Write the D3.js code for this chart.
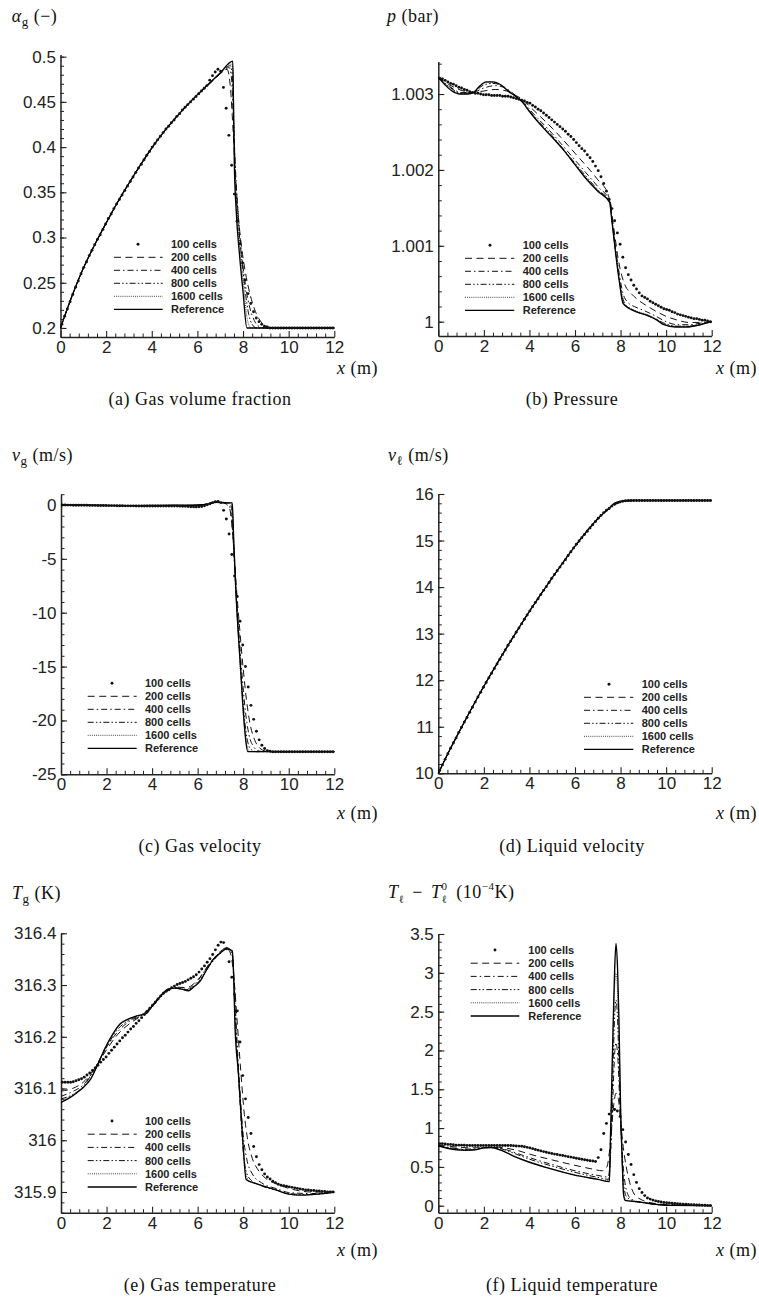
<!DOCTYPE html>
<html><head><meta charset="utf-8">
<script src="https://cdn.jsdelivr.net/npm/d3@7"></script>
<style>
body{margin:0;background:#fff}
svg{display:block}
</style></head><body>
<svg id="c" width="759" height="1298"></svg>
<script>
// ---------------- DATA ----------------
const legendLabels = ["100 cells","200 cells","400 cells","800 cells","1600 cells","Reference"];
const xTicks = [0,2,4,6,8,10,12];
const xTickLabels = ["0","2","4","6","8","10","12"];

const cellX = [0.06,0.18,0.30,0.42,0.54,0.66,0.78,0.90,1.02,1.14,
1.26,1.38,1.50,1.62,1.74,1.86,1.98,2.10,2.22,2.34,
2.46,2.58,2.70,2.82,2.94,3.06,3.18,3.30,3.42,3.54,
3.66,3.78,3.90,4.02,4.14,4.26,4.38,4.50,4.62,4.74,
4.86,4.98,5.10,5.22,5.34,5.46,5.58,5.70,5.82,5.94,
6.06,6.18,6.30,6.42,6.54,6.66,6.78,6.90,7.02,7.14,
7.26,7.38,7.50,7.62,7.74,7.86,7.98,8.10,8.22,8.34,
8.46,8.58,8.70,8.82,8.94,9.06,9.18,9.30,9.42,9.54,
9.66,9.78,9.90,10.02,10.14,10.26,10.38,10.50,10.62,10.74,
10.86,10.98,11.10,11.22,11.34,11.46,11.58,11.70,11.82,11.94];

// (a) gas volume fraction
const aTicks = [0.2,0.25,0.3,0.35,0.4,0.45,0.5];
const aTickLabels = ["0.2","0.25","0.3","0.35","0.4","0.45","0.5"];
const a100 = [0.204,0.213,0.221,0.229,0.237,0.245,0.252,0.260,0.267,0.273,
0.280,0.286,0.292,0.298,0.303,0.309,0.315,0.321,0.326,0.332,
0.337,0.342,0.347,0.352,0.357,0.362,0.367,0.372,0.377,0.381,
0.386,0.391,0.395,0.400,0.404,0.408,0.412,0.416,0.420,0.423,
0.427,0.430,0.434,0.437,0.441,0.444,0.447,0.450,0.453,0.456,
0.459,0.462,0.465,0.468,0.474,0.479,0.483,0.486,0.484,0.466,
0.443,0.413,0.380,0.348,0.318,0.293,0.272,0.253,0.238,0.227,
0.218,0.211,0.207,0.204,0.202,0.201,0.200,0.200,0.200,0.200,
0.200,0.200,0.200,0.200,0.200,0.200,0.200,0.200,0.200,0.200,
0.200,0.200,0.200,0.200,0.200,0.200,0.200,0.200,0.200,0.200];
const a200 = [[0,.2],[0.5,.235],[1,.266],[1.5,.292],[2,.316],[2.5,.339],[3,.36],[3.5,.38],[4,.399],[4.5,.416],[5,.431],[5.5,.445],[6,.458],[6.5,.469],[7,.481],[7.3,.486],[7.45,.465],[7.56,.42],[7.68,.365],[7.8,.322],[7.95,.287],[8.1,.262],[8.3,.238],[8.5,.221],[8.7,.21],[8.95,.203],[9.3,.2],[12,.2]];
const a400 = [[0,.2],[0.5,.235],[1,.266],[1.5,.292],[2,.316],[2.5,.339],[3,.36],[3.5,.38],[4,.399],[4.5,.416],[5,.431],[5.5,.445],[6,.458],[6.5,.47],[7,.481],[7.4,.488],[7.5,.474],[7.58,.43],[7.68,.37],[7.82,.315],[7.97,.275],[8.12,.245],[8.3,.222],[8.5,.208],[8.75,.201],[9,.2],[12,.2]];
const a800 = [[0,.2],[0.5,.235],[1,.266],[1.5,.292],[2,.316],[2.5,.339],[3,.36],[3.5,.38],[4,.399],[4.5,.416],[5,.431],[5.5,.445],[6,.458],[6.5,.47],[7,.482],[7.45,.49],[7.53,.479],[7.6,.42],[7.68,.36],[7.8,.315],[7.95,.275],[8.1,.24],[8.25,.215],[8.4,.204],[8.6,.2],[12,.2]];
const a1600 = [[0,.2],[0.5,.235],[1,.266],[1.5,.292],[2,.316],[2.5,.339],[3,.36],[3.5,.38],[4,.399],[4.5,.416],[5,.431],[5.5,.445],[6,.458],[6.5,.47],[7,.482],[7.5,.492],[7.56,.484],[7.6,.43],[7.66,.37],[7.75,.325],[7.9,.28],[8.05,.24],[8.2,.208],[8.35,.2],[12,.2]];
const aRef = [[0,.2],[0.5,.235],[1,.266],[1.5,.292],[2,.316],[2.5,.339],[3,.36],[3.5,.38],[4,.399],[4.5,.416],[5,.431],[5.5,.445],[6,.458],[6.5,.47],[7,.482],[7.55,.495],[7.58,.45],[7.62,.38],[7.7,.33],[7.85,.28],[8,.24],[8.17,.2],[12,.2]];

// (b) pressure
const bTicks = [1,1.001,1.002,1.003];
const bTickLabels = ["1","1.001","1.002","1.003"];
const b100 = [1.00321,1.00320,1.00318,1.00316,1.00314,1.00313,1.00311,1.00309,1.00308,1.00306,
1.00305,1.00303,1.00302,1.00301,1.00301,1.00300,1.00299,1.00299,1.00299,1.00298,
1.00298,1.00298,1.00298,1.00297,1.00297,1.00297,1.00296,1.00295,1.00294,1.00293,
1.00292,1.00291,1.00289,1.00288,1.00285,1.00283,1.00280,1.00278,1.00275,1.00272,
1.00269,1.00266,1.00263,1.00260,1.00257,1.00254,1.00251,1.00247,1.00244,1.00240,
1.00236,1.00232,1.00228,1.00225,1.00220,1.00216,1.00211,1.00205,1.00199,1.00191,
1.00182,1.00172,1.00161,1.00149,1.00133,1.00117,1.00102,1.00085,1.00071,1.00062,
1.00055,1.00048,1.00043,1.00038,1.00034,1.00032,1.00030,1.00027,1.00025,1.00023,
1.00021,1.00019,1.00017,1.00016,1.00015,1.00013,1.00012,1.00010,1.00009,1.00008,
1.00007,1.00006,1.00005,1.00004,1.00004,1.00003,1.00002,1.00002,1.00001,1.00000];
const b200 = [[0,1.00322],[0.5,1.00312],[1,1.00305],[1.5,1.00302],[2,1.00304],[2.5,1.00306],[3,1.00304],[3.4,1.00298],[3.7,1.00293],[4,1.00284],[5,1.00255],[6,1.00222],[7,1.00187],[7.45,1.00168],[7.6,1.00145],[7.75,1.00113],[7.9,1.00082],[8.05,1.00061],[8.2,1.00048],[8.5,1.00036],[8.8,1.00028],[9.2,1.0002],[9.6,1.00013],[10,1.00007],[10.5,1.00002],[11,0.99999],[11.5,0.99999],[12,1.0]];
const b400 = [[0,1.00322],[0.5,1.0031],[1,1.00302],[1.5,1.00302],[2,1.00308],[2.5,1.00311],[3,1.00307],[3.4,1.00298],[3.7,1.00291],[4,1.0028],[5,1.00248],[6,1.00213],[7,1.00178],[7.55,1.00158],[7.65,1.00128],[7.8,1.00092],[7.95,1.00062],[8.1,1.00038],[8.3,1.00026],[8.6,1.0002],[9.0,1.00015],[9.5,1.00008],[10,1.0],[10.5,0.99996],[11,0.99996],[11.5,0.99998],[12,1.0]];
const b800 = [[0,1.00322],[0.5,1.00309],[1,1.00301],[1.5,1.00302],[2,1.00312],[2.4,1.00314],[2.8,1.00311],[3.1,1.00304],[3.4,1.00297],[3.7,1.0029],[4,1.00278],[5,1.00245],[6,1.00209],[7,1.00174],[7.55,1.00157],[7.63,1.00132],[7.75,1.001],[7.9,1.00065],[8.05,1.00037],[8.2,1.00023],[8.5,1.00016],[9,1.0001],[9.5,1.00004],[10,0.99997],[10.5,0.99994],[11,0.99994],[11.5,0.99997],[12,1.0]];
const b1600 = [[0,1.00322],[0.5,1.00308],[1,1.003],[1.5,1.00302],[1.8,1.0031],[2.1,1.00315],[2.4,1.00315],[2.8,1.00311],[3.1,1.00303],[3.35,1.00298],[3.7,1.00289],[4.0,1.00277],[4.5,1.00259],[5.0,1.00243],[5.5,1.00226],[6.0,1.00207],[6.5,1.00189],[7.0,1.00173],[7.53,1.00157],[7.62,1.00135],[7.73,1.00106],[7.86,1.00074],[8.0,1.00045],[8.15,1.00024],[8.4,1.00018],[8.7,1.00014],[9.28,1.00008],[9.6,1.00003],[9.9,0.99997],[10.4,0.99994],[10.9,0.99994],[11.5,0.99996],[12,1.0]];
const bRef = [[0,1.00322],[0.3,1.00312],[0.6,1.00304],[0.95,1.003],[1.3,1.003],[1.55,1.00302],[1.8,1.0031],[2.1,1.00316],[2.4,1.00316],[2.8,1.00311],[3.1,1.00303],[3.35,1.00298],[3.7,1.00289],[4.0,1.00277],[4.5,1.00259],[5.0,1.00243],[5.5,1.00226],[6.0,1.00207],[6.5,1.00188],[7.0,1.00172],[7.52,1.00157],[7.6,1.00138],[7.7,1.00112],[7.82,1.00081],[7.95,1.00052],[8.11,1.00024],[8.4,1.00017],[8.7,1.00013],[9.28,1.00007],[9.6,1.00002],[9.9,0.99996],[10.4,0.99993],[10.9,0.99993],[11.5,0.99996],[12,1.0]];

// (c) gas velocity
const cTicks = [-25,-20,-15,-10,-5,0];
const cTickLabels = ["-25","-20","-15","-10","-5","0"];
const c100 = [0,0,-0.01,-0.01,-0.02,-0.02,-0.02,-0.03,-0.03,-0.03,
-0.04,-0.04,-0.04,-0.05,-0.05,-0.05,-0.05,-0.06,-0.06,-0.06,
-0.07,-0.07,-0.07,-0.08,-0.08,-0.08,-0.08,-0.09,-0.09,-0.09,
-0.09,-0.1,-0.1,-0.1,-0.1,-0.1,-0.1,-0.1,-0.1,-0.1,
-0.1,-0.1,-0.1,-0.11,-0.12,-0.13,-0.15,-0.17,-0.18,-0.18,
-0.17,-0.14,-0.08,0.02,0.12,0.22,0.3,0.32,0.22,-0.5,
-1.3,-2.7,-4.6,-6.6,-8.5,-10.8,-13.0,-15.0,-16.9,-18.6,
-19.9,-21.0,-21.8,-22.3,-22.6,-22.8,-22.85,-22.9,-22.9,-22.9,
-22.9,-22.9,-22.9,-22.9,-22.9,-22.9,-22.9,-22.9,-22.9,-22.9,
-22.9,-22.9,-22.9,-22.9,-22.9,-22.9,-22.9,-22.9,-22.9,-22.9];
const c200 = [[0,0],[1,-0.03],[2,-0.06],[3,-0.08],[4,-0.09],[5,-0.08],[6,-0.05],[6.6,0.2],[6.9,0.3],[7.2,0.15],[7.4,-0.3],[7.5,-1.8],[7.6,-4.5],[7.7,-7.6],[7.85,-11.6],[8.0,-15.2],[8.15,-18.2],[8.3,-20.3],[8.5,-21.8],[8.7,-22.5],[9.0,-22.85],[9.3,-22.9],[12,-22.9]];
const c400 = [[0,0],[1,-0.02],[2,-0.05],[3,-0.07],[4,-0.07],[5,-0.06],[6,-0.04],[6.6,0.2],[6.9,0.28],[7.3,0.2],[7.45,-0.5],[7.55,-3],[7.65,-6.8],[7.8,-11.5],[7.95,-15.8],[8.1,-19.2],[8.25,-21.3],[8.45,-22.4],[8.7,-22.85],[9,-22.9],[12,-22.9]];
const c800 = [[0,0],[1,-0.02],[2,-0.05],[3,-0.06],[4,-0.06],[5,-0.05],[6,-0.02],[6.5,0.1],[6.8,0.25],[7.2,0.2],[7.42,0.2],[7.5,-0.5],[7.58,-3.5],[7.66,-7.2],[7.8,-12.2],[7.95,-17],[8.08,-20.3],[8.2,-22],[8.35,-22.7],[8.6,-22.9],[12,-22.9]];
const c1600 = [[0,0],[1,-0.02],[2,-0.05],[3,-0.06],[4,-0.05],[5,-0.04],[6,0],[6.5,0.1],[6.8,0.25],[7.2,0.18],[7.48,0.2],[7.54,-1],[7.6,-4.5],[7.68,-8],[7.85,-14.5],[8.0,-19.3],[8.1,-21.5],[8.2,-22.6],[8.3,-22.9],[12,-22.9]];
const cRef = [[0,0],[1,-0.02],[2,-0.05],[3,-0.06],[4,-0.05],[5,-0.03],[6,0.0],[6.5,0.1],[6.8,0.25],[7.2,0.18],[7.52,0.2],[7.58,-3],[7.67,-7.6],[7.89,-15.3],[8.03,-19.9],[8.12,-22],[8.2,-22.9],[12,-22.9]];

// (d) liquid velocity
const dTicks = [10,11,12,13,14,15,16];
const dTickLabels = ["10","11","12","13","14","15","16"];
const d100 = [10.06,10.18,10.30,10.42,10.54,10.65,10.76,10.88,10.99,11.10,
11.20,11.31,11.42,11.53,11.64,11.74,11.85,11.95,12.05,12.15,
12.25,12.35,12.45,12.55,12.65,12.75,12.84,12.93,13.03,13.12,
13.21,13.31,13.40,13.49,13.58,13.67,13.75,13.84,13.93,14.01,
14.10,14.19,14.27,14.35,14.43,14.51,14.59,14.68,14.76,14.84,
14.92,14.99,15.06,15.13,15.20,15.27,15.34,15.41,15.48,15.54,
15.60,15.65,15.69,15.74,15.78,15.81,15.83,15.845,15.855,15.86,
15.86,15.86,15.86,15.86,15.86,15.86,15.86,15.86,15.86,15.86,
15.86,15.86,15.86,15.86,15.86,15.86,15.86,15.86,15.86,15.86,
15.86,15.86,15.86,15.86,15.86,15.86,15.86,15.86,15.86,15.86];
const d200 = [[0,10],[0.5,10.5],[1,10.97],[2,11.87],[3,12.7],[4,13.48],[5,14.2],[6,14.88],[7,15.46],[7.4,15.64],[7.7,15.76],[8.0,15.82],[8.3,15.85],[8.8,15.86],[12,15.86]];
const d400 = [[0,10],[0.5,10.5],[1,10.97],[2,11.87],[3,12.7],[4,13.48],[5,14.2],[6,14.88],[7,15.47],[7.5,15.69],[7.75,15.78],[8.0,15.83],[8.3,15.855],[8.7,15.86],[12,15.86]];
const d800 = [[0,10],[0.5,10.5],[1,10.97],[2,11.87],[3,12.7],[4,13.48],[5,14.2],[6,14.88],[7,15.47],[7.55,15.71],[7.75,15.79],[8.0,15.835],[8.3,15.857],[8.6,15.86],[12,15.86]];
const d1600 = [[0,10],[0.5,10.5],[1,10.97],[2,11.87],[3,12.7],[4,13.48],[5,14.2],[6,14.88],[7,15.47],[7.55,15.715],[7.7,15.785],[7.9,15.828],[8.2,15.853],[8.6,15.86],[12,15.86]];
const dRef = [[0,10],[0.5,10.5],[1,10.97],[2,11.87],[3,12.7],[4,13.48],[5,14.2],[6,14.88],[7,15.47],[7.55,15.72],[7.7,15.79],[7.9,15.83],[8.2,15.855],[8.6,15.86],[12,15.86]];

// (e) gas temperature
const eTicks = [315.9,316,316.1,316.2,316.3,316.4];
const eTickLabels = ["315.9","316","316.1","316.2","316.3","316.4"];
const e100 = [316.112,316.112,316.112,316.112,316.113,316.115,316.117,316.119,316.122,316.126,
316.130,316.135,316.140,316.145,316.151,316.156,316.161,316.168,316.174,316.180,
316.186,316.192,316.198,316.203,316.209,316.215,316.220,316.226,316.231,316.237,
316.243,316.249,316.255,316.261,316.267,316.273,316.279,316.284,316.288,316.291,
316.295,316.298,316.301,316.303,316.305,316.307,316.310,316.313,316.316,316.320,
316.325,316.331,316.337,316.344,316.351,316.359,316.368,316.377,316.383,316.382,
316.370,316.345,316.315,316.282,316.250,316.190,316.125,316.080,316.044,316.013,
315.988,315.968,315.953,315.943,315.935,315.929,315.925,315.921,315.918,315.915,
315.913,315.912,315.911,315.910,315.909,315.908,315.907,315.906,315.905,315.904,
315.904,315.903,315.903,315.902,315.902,315.901,315.901,315.900,315.900,315.900];
const e200 = [[0,316.095],[0.5,316.1],[1,316.113],[1.5,316.14],[2,316.175],[2.5,316.205],[3,316.225],[3.5,316.24],[4,316.258],[4.5,316.283],[5,316.296],[5.5,316.295],[6,316.31],[6.5,316.34],[7,316.365],[7.25,316.372],[7.45,316.36],[7.6,316.31],[7.75,316.22],[7.9,316.13],[8.05,316.05],[8.2,316.0],[8.4,315.965],[8.7,315.94],[9.0,315.926],[9.5,315.915],[10,315.907],[10.5,315.902],[11,315.9],[12,315.9]];
const e400 = [[0,316.085],[0.5,316.094],[1,316.108],[1.5,316.14],[2,316.18],[2.5,316.21],[3,316.23],[3.5,316.24],[4,316.258],[4.5,316.283],[5,316.295],[5.5,316.292],[6,316.308],[6.5,316.34],[7,316.364],[7.3,316.372],[7.5,316.362],[7.6,316.31],[7.72,316.2],[7.88,316.08],[8.0,316.01],[8.15,315.965],[8.4,315.935],[8.8,315.918],[9.5,315.906],[10,315.899],[11,315.897],[12,315.9]];
const e800 = [[0,316.08],[0.5,316.088],[1,316.105],[1.5,316.14],[2,316.18],[2.5,316.215],[3,316.232],[3.5,316.242],[4,316.259],[4.5,316.284],[5,316.294],[5.5,316.291],[6,316.304],[6.5,316.336],[7,316.362],[7.3,316.371],[7.52,316.365],[7.6,316.3],[7.7,316.2],[7.85,316.08],[7.98,315.99],[8.1,315.945],[8.3,315.925],[8.8,315.912],[9.5,315.903],[10,315.897],[11,315.895],[12,315.9]];
const e1600 = [[0,316.076],[0.3,316.082],[0.7,316.093],[1.0,316.104],[1.3,316.119],[1.6,316.146],[1.9,316.175],[2.3,316.206],[2.6,316.224],[2.9,316.232],[3.3,316.24],[3.75,316.246],[4.0,316.26],[4.35,316.278],[4.7,316.292],[5.0,316.294],[5.3,316.292],[5.6,316.29],[5.85,316.297],[6.1,316.307],[6.4,316.33],[6.7,316.35],[7.0,316.362],[7.27,316.37],[7.5,316.366],[7.57,316.33],[7.63,316.24],[7.78,316.14],[7.97,316.01],[8.12,315.935],[8.25,315.922],[8.5,315.917],[9.0,315.91],[9.5,315.903],[10,315.896],[10.5,315.894],[11,315.895],[11.5,315.897],[12,315.9]];
const eRef = [[0,316.073],[0.3,316.08],[0.7,316.092],[1.0,316.103],[1.3,316.118],[1.6,316.145],[1.9,316.175],[2.3,316.207],[2.6,316.225],[2.9,316.233],[3.3,316.24],[3.75,316.245],[4.0,316.26],[4.35,316.278],[4.7,316.292],[5.0,316.294],[5.3,316.292],[5.6,316.289],[5.85,316.297],[6.1,316.307],[6.4,316.33],[6.7,316.35],[7.0,316.362],[7.27,316.37],[7.52,316.366],[7.58,316.32],[7.64,316.22],[7.79,316.13],[7.98,316.0],[8.13,315.924],[8.5,315.917],[9.0,315.91],[9.5,315.903],[10,315.896],[10.5,315.894],[11,315.895],[11.5,315.897],[12,315.9]];

// (f) liquid temperature
const fTicks = [0,0.5,1,1.5,2,2.5,3,3.5];
const fTickLabels = ["0","0.5","1","1.5","2","2.5","3","3.5"];
const f100 = [0.80,0.80,0.795,0.79,0.79,0.785,0.78,0.78,0.78,0.778,
0.777,0.776,0.776,0.776,0.776,0.776,0.776,0.776,0.776,0.776,
0.776,0.776,0.776,0.775,0.775,0.775,0.775,0.772,0.770,0.768,
0.765,0.760,0.752,0.745,0.735,0.725,0.716,0.706,0.697,0.688,
0.680,0.672,0.665,0.659,0.652,0.646,0.639,0.632,0.626,0.619,
0.612,0.605,0.598,0.592,0.586,0.580,0.575,0.570,0.620,0.720,
0.930,1.060,1.180,1.220,1.240,1.220,1.150,0.980,0.820,0.660,
0.530,0.400,0.300,0.220,0.170,0.130,0.100,0.085,0.072,0.062,
0.054,0.047,0.042,0.038,0.034,0.031,0.028,0.025,0.022,0.020,
0.018,0.016,0.014,0.012,0.010,0.009,0.007,0.006,0.005,0.004];
const f200 = [[0,0.78],[0.5,0.765],[1,0.75],[1.5,0.745],[2,0.75],[2.5,0.755],[3,0.74],[3.5,0.71],[4,0.665],[5,0.59],[6,0.52],[6.8,0.47],[7.2,0.45],[7.4,0.5],[7.55,0.8],[7.7,1.3],[7.8,1.45],[7.9,1.38],[8.0,1.1],[8.1,0.8],[8.25,0.5],[8.4,0.3],[8.6,0.15],[8.9,0.08],[9.3,0.04],[10,0.015],[12,0.0]];
const f400 = [[0,0.775],[0.5,0.75],[1,0.73],[1.5,0.73],[2,0.745],[2.5,0.75],[3,0.72],[3.5,0.67],[4,0.62],[5,0.53],[6,0.45],[7,0.39],[7.45,0.37],[7.55,0.6],[7.65,1.3],[7.75,2.0],[7.8,2.1],[7.88,1.9],[7.97,1.3],[8.07,0.7],[8.17,0.35],[8.3,0.16],[8.5,0.08],[9,0.04],[10,0.01],[12,0.0]];
const f800 = [[0,0.77],[0.5,0.745],[1,0.725],[1.5,0.72],[2,0.745],[2.5,0.75],[3,0.71],[3.5,0.655],[4,0.6],[5,0.51],[6,0.43],[7,0.365],[7.48,0.34],[7.56,0.7],[7.66,1.7],[7.75,2.5],[7.8,2.65],[7.86,2.45],[7.95,1.6],[8.04,0.8],[8.13,0.3],[8.25,0.12],[8.5,0.07],[9,0.04],[10,0.006],[12,0.0]];
const f1600 = [[0,0.77],[0.4,0.742],[0.8,0.722],[1.2,0.716],[1.6,0.72],[2.0,0.745],[2.3,0.75],[2.8,0.71],[3.3,0.642],[4.0,0.563],[4.76,0.493],[5.5,0.433],[6.22,0.383],[7.0,0.343],[7.5,0.32],[7.56,0.8],[7.64,1.9],[7.72,2.7],[7.8,3.0],[7.87,2.75],[7.95,1.9],[8.02,1.05],[8.1,0.35],[8.18,0.1],[8.4,0.06],[9,0.04],[9.5,0.02],[10,0.005],[12,0]];
const fRef = [[0,0.77],[0.4,0.74],[0.8,0.72],[1.2,0.715],[1.6,0.72],[2.0,0.745],[2.3,0.75],[2.8,0.71],[3.3,0.64],[4.0,0.56],[4.76,0.49],[5.5,0.43],[6.22,0.38],[7.0,0.34],[7.51,0.31],[7.54,0.68],[7.61,1.53],[7.68,2.39],[7.74,3.04],[7.8,3.38],[7.87,3.04],[7.93,2.39],[8.0,1.27],[8.07,0.6],[8.13,0.15],[8.2,0.07],[8.6,0.055],[9.0,0.04],[9.5,0.02],[10,0.005],[12,0.0]];

// ---------------- DRAWING ----------------
const svg = d3.select("#c");
const SANS = "'Liberation Sans', Arial, Helvetica, sans-serif";
const SERIF = "'Liberation Serif', 'DejaVu Serif', 'Times New Roman', serif";
const styles = [
  {dash:null, w:0, dot:true},
  {dash:"7,4.5", w:1.0, color:"#111"},
  {dash:"6,3,1.5,3", w:1.0, color:"#111"},
  {dash:"6,2.2,1.5,2.2,1.5,2.2", w:1.0, color:"#111"},
  {dash:"1,1.1", w:1.0, color:"#444"},
  {dash:null, w:1.35, color:"#000"}
];

const panels = [
 {x0:60.5,x1:334.3, yd:[0.19,0.5025], yr:[337,54.4], ticks:aTicks, tl:aTickLabels, minor:0.01,
  dots:a100, lines:[a200,a400,a800,a1600,aRef], leg:{y:244.3,dy:13,x1:114,x2:162.7,tx:171,dx:138}},
 {x0:438.3,x1:711.7, yd:[0.99981,1.00343], yr:[336.1,61.4], ticks:bTicks, tl:bTickLabels, minor:0.0002,
  dots:b100, lines:[b200,b400,b800,b1600,bRef], leg:{y:245.3,dy:13,x1:465,x2:514.3,tx:522.7,dx:490}},
 {x0:61,x1:334.3, yd:[-25,1], yr:[774.3,494.2], ticks:cTicks, tl:cTickLabels, minor:1,
  dots:c100, lines:[c200,c400,c800,c1600,cRef], leg:{y:683.3,dy:13,x1:87.7,x2:136.7,tx:145,dx:112}},
 {x0:438.3,x1:711.7, yd:[10,16], yr:[773.3,494], ticks:dTicks, tl:dTickLabels, minor:0.2,
  dots:d100, lines:[d200,d400,d800,d1600,dRef], leg:{y:684.3,dy:13,x1:584,x2:633.3,tx:641.7,dx:609}},
 {x0:61,x1:334.3, yd:[315.86,316.4], yr:[1212.7,933.3], ticks:eTicks, tl:eTickLabels, minor:0.02,
  dots:e100, lines:[e200,e400,e800,e1600,eRef], leg:{y:1121,dy:13.2,x1:87.7,x2:136.7,tx:145,dx:112}},
 {x0:438.3,x1:711.7, yd:[-0.09,3.5], yr:[1212.7,934], ticks:fTicks, tl:fTickLabels, minor:0.1,
  dots:f100, lines:[f200,f400,f800,f1600,fRef], leg:{y:950,dy:13.2,x1:470.7,x2:519.3,tx:528.3,dx:495}}
];

function styleAxis(g){
  g.select(".domain").attr("stroke","#222").attr("stroke-width",1.5);
  g.selectAll(".tick line").attr("stroke","#222").attr("stroke-width",1.1);
  g.selectAll(".tick text").attr("fill","#222").style("font-family",SANS).style("font-size","17px");
}

panels.forEach(p => {
  const x = d3.scaleLinear().domain([0,12]).range([p.x0,p.x1]);
  const y = d3.scaleLinear().domain(p.yd).range(p.yr);
  const g = svg.append("g");

  // minor ticks
  const mx = d3.range(0, 12+1e-9, 0.4).filter(v => Math.abs(v/2-Math.round(v/2))>1e-6);
  g.append("g").attr("transform",`translate(0,${p.yr[0]})`)
    .call(d3.axisBottom(x).tickValues(mx).tickSize(-3.5).tickFormat("").tickSizeOuter(0))
    .call(s=>{s.select(".domain").remove(); s.selectAll("line").attr("stroke","#222").attr("stroke-width",1);});
  const my = [];
  const start = Math.ceil(p.yd[0]/p.minor - 1e-6);
  for(let k=start; k*p.minor <= p.yd[1]+1e-9; k++){ my.push(k*p.minor); }
  g.append("g").attr("transform",`translate(${p.x0},0)`)
    .call(d3.axisLeft(y).tickValues(my).tickSize(-3.5).tickFormat("").tickSizeOuter(0))
    .call(s=>{s.select(".domain").remove(); s.selectAll("line").attr("stroke","#222").attr("stroke-width",1);});

  // major axes
  g.append("g").attr("transform",`translate(0,${p.yr[0]})`)
    .call(d3.axisBottom(x).tickValues(xTicks).tickFormat((d,i)=>xTickLabels[i]).tickSize(-6).tickSizeOuter(0).tickPadding(4))
    .call(s=>styleAxis(s));
  g.append("g").attr("transform",`translate(${p.x0},0)`)
    .call(d3.axisLeft(y).tickValues(p.ticks).tickFormat((d,i)=>p.tl[i]).tickSize(-6).tickSizeOuter(0).tickPadding(4.5))
    .call(s=>styleAxis(s));

  // lines
  const line = d3.line().x(d=>x(d[0])).y(d=>y(d[1])).curve(d3.curveMonotoneX);
  [3,2,1,0,4].forEach(i => {
    const st = styles[i+1];
    g.append("path").datum(p.lines[i]).attr("d",line)
      .attr("fill","none").attr("stroke",st.color).attr("stroke-width",st.w)
      .attr("stroke-dasharray",st.dash);
  });
  // dots (100 cells)
  g.append("g").selectAll("circle").data(p.dots).join("circle")
    .attr("cx",(d,i)=>x(cellX[i])).attr("cy",d=>y(d)).attr("r",1.45).attr("fill","#111");

  // legend
  const L = p.leg;
  legendLabels.forEach((lab,i)=>{
    const yy = L.y + i*L.dy;
    if(i===0){
      g.append("circle").attr("cx",L.dx).attr("cy",yy).attr("r",1.45).attr("fill","#111");
    } else {
      const st = styles[i];
      g.append("line").attr("x1",L.x1).attr("x2",L.x2).attr("y1",yy).attr("y2",yy)
        .attr("stroke",st.color).attr("stroke-width",st.w).attr("stroke-dasharray",st.dash);
    }
    g.append("text").attr("x",L.tx).attr("y",yy+4).text(lab)
      .style("font-family",SANS).style("font-size","11px").style("font-weight","bold").attr("fill","#222");
  });
});

// ---------------- TEXT LABELS ----------------
function rich(x, y, parts, anchor){
  const t = svg.append("text").attr("x",x).attr("y",y)
    .style("font-family",SERIF).style("font-size","18px").style("letter-spacing","0.5px").attr("fill","#111")
    .attr("text-anchor",anchor||"start");
  parts.forEach(p=>{
    const s = t.append("tspan").text(p.t);
    if(p.i) s.style("font-style","italic");
    if(p.s) s.style("font-size",p.s+"px");
    if(p.dy) s.attr("dy",p.dy);
    if(p.dx) s.attr("dx",p.dx);
  });
  return t;
}
rich(11.7, 22, [{t:"α",i:1},{t:"g",s:13,dy:4},{t:" (−)",dy:-4}]);
rich(387, 22, [{t:"p",i:1},{t:" (bar)"}]);
rich(12, 461, [{t:"v",i:1},{t:"g",s:13,dy:4},{t:" (m/s)",dy:-4}]);
rich(388, 461, [{t:"v",i:1},{t:"ℓ",s:13,dy:4},{t:" (m/s)",dy:-4}]);
rich(12, 899, [{t:"T",i:1},{t:"g",s:13,dy:4},{t:" (K)",dy:-4}]);
rich(388, 898, [{t:"T",i:1},{t:"ℓ",s:11,dy:5},{t:" − ",dx:3,dy:-5},{t:"T",i:1,dx:3},{t:"0",s:11,dy:-8},{t:"ℓ",s:11,dx:-6,dy:13},{t:" (10",dx:4,dy:-5},{t:"−4",s:11,dy:-8},{t:"K)",dy:8}]);

const xlab = [[378,374],[757,374],[378,819],[757,819],[378,1256],[757,1256]];
xlab.forEach(d=>rich(d[0],d[1],[{t:"x",i:1},{t:" (m)"}],"end"));

const captions = ["(a) Gas volume fraction","(b) Pressure","(c) Gas velocity","(d) Liquid velocity","(e) Gas temperature","(f) Liquid temperature"];
const capPos = [[200,405],[572,405],[200,852],[572,852],[200,1291],[572,1291]];
captions.forEach((c,i)=>rich(capPos[i][0],capPos[i][1],[{t:c}],"middle"));
</script></body></html>
